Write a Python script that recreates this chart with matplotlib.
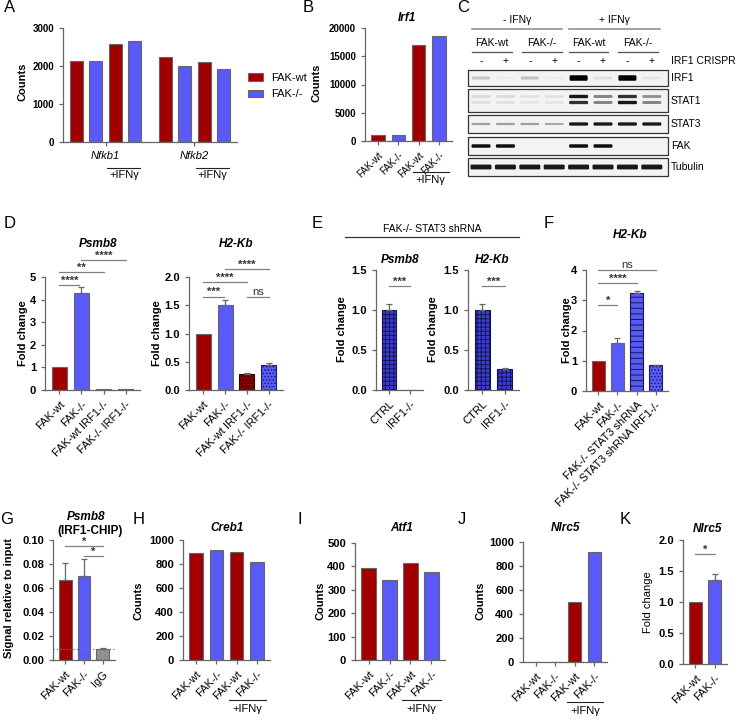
import matplotlib.pyplot as plt
from matplotlib.patches import Rectangle, FancyBboxPatch, Patch
from matplotlib.transforms import offset_copy
import numpy as np

plt.rcParams['font.family'] = ['Liberation Sans', 'DejaVu Sans']
plt.rcParams['hatch.linewidth'] = 0.7

W, H = 739, 721
RED = '#a00000'
BLUE = '#5a5af8'
GREY = '#666666'

# ---------------- data ----------------
a_counts = [2130, 2140, 2590, 2660, 2250, 2000, 2100, 1920]
a_pos = [0, 1, 2, 3, 4.6, 5.6, 6.6, 7.6]
a_genes = ['Nfkb1', 'Nfkb2']
a_gene_pos = [1.5, 6.1]

b_labels = ['FAK-wt', 'FAK-/-', 'FAK-wt', 'FAK-/-']
b_irf1 = [1000, 1000, 17000, 18600]

blot_rows = ['IRF1', 'STAT1', 'STAT3', 'FAK', 'Tubulin']
blot_crispr = ['-', '+', '-', '+', '-', '+', '-', '+']
irf1_band = [0.18, 0.03, 0.2, 0.03, 1.0, 0.08, 1.0, 0.06]
stat1_upper = [0.1, 0.1, 0.08, 0.08, 0.9, 0.45, 0.8, 0.4]
stat1_lower = [0.08, 0.08, 0.06, 0.06, 0.8, 0.45, 0.9, 0.45]
stat3_band = [0.35, 0.35, 0.35, 0.3, 0.9, 0.9, 0.9, 0.9]
fak_band = [0.95, 0.95, 0, 0, 0.95, 0.95, 0, 0]
tub_band = [0.9, 0.9, 0.9, 0.9, 0.9, 0.9, 0.9, 0.9]

d_labels = ['FAK-wt', 'FAK-/-', 'FAK-wt IRF1-/-', 'FAK-/- IRF1-/-']
d_psmb8 = [1.0, 4.3, 0.03, 0.03]
d_psmb8_err = [0, 0.25, 0, 0]
d_h2kb = [1.0, 1.51, 0.28, 0.45]
d_h2kb_err = [0, 0.08, 0.02, 0.03]

e_labels = ['CTRL', 'IRF1-/-']
e_psmb8 = [1.0, 0.005]
e_psmb8_err = [0.08, 0]
e_h2kb = [1.0, 0.26]
e_h2kb_err = [0.08, 0.01]

f_labels = ['FAK-wt', 'FAK-/-', 'FAK-/- STAT3 shRNA', 'FAK-/- STAT3 shRNA IRF1-/-']
f_h2kb = [1.0, 1.58, 3.23, 0.85]
f_h2kb_err = [0, 0.18, 0.06, 0.02]

g_labels = ['FAK-wt', 'FAK-/-', 'IgG']
g_signal = [0.067, 0.070, 0.0095]
g_signal_err = [0.0135, 0.014, 0.0005]
g_background = 0.009

h_creb1 = [890, 920, 900, 820]
i_atf1 = [395, 340, 415, 375]
j_nlrc5 = [0, 0, 500, 920]

k_labels = ['FAK-wt', 'FAK-/-']
k_nlrc5 = [1.0, 1.36]
k_nlrc5_err = [0, 0.09]

# ---------------- helpers ----------------
fig = plt.figure(figsize=(W / 100, H / 100), dpi=100)


def px_ax(x0, y0, x1, y1):
    return fig.add_axes([x0 / W, 1 - y1 / H, (x1 - x0) / W, (y1 - y0) / H])


def ftext(x, y, s, **kw):
    fig.text(x / W, 1 - y / H, s, **kw)


def style(ax, yticks, fmt, size=7.5):
    for s in ['top', 'right']:
        ax.spines[s].set_visible(False)
    for s in ['left', 'bottom']:
        ax.spines[s].set_color(GREY)
        ax.spines[s].set_linewidth(0.9)
    ax.tick_params(colors=GREY, width=0.9, length=3, labelcolor='black')
    ax.set_yticks(yticks, [fmt.format(v) for v in yticks], fontsize=size, fontweight='bold')
    ax.set_ylim(yticks[0], yticks[-1])


def xlabels(ax, labels, size=8):
    ax.set_xticks(range(len(labels)), labels, rotation=45, ha='right',
                  rotation_mode='anchor', fontsize=size)
    ax.set_xlim(-0.65, len(labels) - 0.35)


def bars(ax, vals, colors, errs=None, hatches=None, hatch_edges=None):
    x = np.arange(len(vals))
    for i, v in enumerate(vals):
        hatch = hatches[i] if hatches else None
        ec = hatch_edges[i] if (hatches and hatch) else GREY
        ax.bar(x[i], v, width=0.68, color=colors[i], edgecolor=ec, lw=0.8, hatch=hatch)
    if errs is not None:
        e = np.array(errs)
        m = e > 0
        ax.errorbar(x[m], np.array(vals)[m], yerr=[np.zeros(m.sum()), e[m]], fmt='none',
                    ecolor=GREY, elinewidth=0.9, capsize=2.5, capthick=0.9)


def sig(ax, x0, x1, y, txt):
    ax.plot([x0, x1], [y, y], color='#808080', lw=0.9, clip_on=False)
    tr = offset_copy(ax.transData, fig=fig, y=1.5, units='dots')
    ax.text((x0 + x1) / 2, y, txt, transform=tr, ha='center', va='baseline', fontsize=8,
            fontweight='bold' if '*' in txt else 'normal', color='#333333')


def ifn(ax, x0, x1, dy_line, dy_text):
    tr = offset_copy(ax.get_xaxis_transform(), fig=fig, y=-dy_line, units='dots')
    ax.plot([x0, x1], [0, 0], transform=tr, color='#222222', lw=0.8, clip_on=False)
    tr2 = offset_copy(ax.get_xaxis_transform(), fig=fig, y=-dy_text, units='dots')
    ax.text((x0 + x1) / 2, 0, '+IFNγ', transform=tr2, ha='center', va='center', fontsize=8)


def ylab(x, y, s, weight='bold'):
    ftext(x, y, s, rotation=90, ha='center', va='center', fontsize=8, fontweight=weight)


def title(x, y, s):
    ftext(x, y, s, ha='center', va='center', fontsize=8.5, fontweight='bold', style='italic')


# ---------------- A ----------------
axA = px_ax(63, 28, 237, 142)
style(axA, [0, 1000, 2000, 3000], '{:.0f}', size=7)
axA.bar(a_pos, a_counts, width=0.67, color=[RED, BLUE] * 4, edgecolor=GREY, lw=0.8)
axA.set_xlim(-0.7, 8.3)
axA.set_xticks(a_gene_pos, a_genes, fontsize=8, style='italic')
ifn(axA, 1.6, 3.3, 26, 33)
ifn(axA, 6.2, 7.9, 26, 33)
axA.legend(handles=[Patch(fc=RED, ec=GREY, lw=0.8), Patch(fc=BLUE, ec=GREY, lw=0.8)],
           labels=['FAK-wt', 'FAK-/-'], loc='center left', bbox_to_anchor=(1.03, 0.49),
           frameon=False, fontsize=8, handlelength=1.4, handleheight=0.7,
           handletextpad=0.7, labelspacing=0.6, borderpad=0)
ylab(22, 82, 'Counts')

# ---------------- B ----------------
axB = px_ax(365, 28, 452, 141)
style(axB, [0, 5000, 10000, 15000, 20000], '{:.0f}', size=7)
bars(axB, b_irf1, [RED, BLUE, RED, BLUE])
xlabels(axB, b_labels, size=7)
ifn(axB, 1.7, 3.5, 31, 39)
ylab(317, 83, 'Counts')
title(407, 18, 'Irf1')

# ---------------- C (western blot) ----------------
axC = px_ax(460, 0, 739, 190)
axC.set_xlim(460, 739)
axC.set_ylim(190, 0)
axC.axis('off')
lane_x = 481 + 24.4 * np.arange(8)
row_box = [(70, 86), (89, 112), (115, 133), (137, 155), (158, 176)]
for (top, bot), name in zip(row_box, blot_rows):
    axC.add_patch(Rectangle((468, top), 200, bot - top, fc='#f3f3f3', ec='#333333', lw=0.9))
    axC.text(671, (top + bot) / 2, name, ha='left', va='center', fontsize=7.5)


def bands(vals, yc, hmin, hmax, w):
    for x, v in zip(lane_x, vals):
        if v <= 0:
            continue
        h = hmin + (hmax - hmin) * v
        axC.add_patch(FancyBboxPatch((x - w / 2, yc - h / 2), w, h,
                                     boxstyle='round,pad=0,rounding_size=1.2',
                                     fc='black', alpha=v, lw=0))


bands(irf1_band, 78, 2.5, 5.5, 18)
bands(stat1_upper, 96.5, 2.5, 3.5, 19)
bands(stat1_lower, 102.5, 2.5, 3.5, 19)
bands(stat3_band, 124, 1.5, 3.5, 19)
bands(fak_band, 146, 2.5, 3.5, 19)
bands(tub_band, 167, 3.5, 5, 21)

for sgn, x in zip(blot_crispr, lane_x):
    axC.text(x, 61, sgn, ha='center', va='center', fontsize=7.5)
axC.text(671, 61, 'IRF1 CRISPR', ha='left', va='center', fontsize=7.5)
for lab, x0, x1 in [('- IFNγ', 472, 562), ('+ IFNγ', 569, 660)]:
    axC.plot([x0, x1], [29, 29], color='#888888', lw=1.1)
    axC.text((x0 + x1) / 2, 20, lab, ha='center', va='center', fontsize=7.5)
for lab, x0, x1 in [('FAK-wt', 472, 512), ('FAK-/-', 522, 562),
                    ('FAK-wt', 569, 608), ('FAK-/-', 618, 658)]:
    axC.plot([x0, x1], [52, 52], color='#555555', lw=0.9)
    axC.text((x0 + x1) / 2, 43, lab, ha='center', va='center', fontsize=7.5)

# ---------------- D ----------------
axD1 = px_ax(45, 277, 140, 390)
style(axD1, [0, 1, 2, 3, 4, 5], '{:.0f}', size=8)
bars(axD1, d_psmb8, [RED, BLUE, RED, BLUE], d_psmb8_err)
xlabels(axD1, d_labels)
sig(axD1, 0, 0.9, 4.65, '****')
sig(axD1, 0, 2, 5.22, '**')
sig(axD1, 1, 3, 5.75, '****')
ylab(23, 333, 'Fold change')
title(98, 244, 'Psmb8')

axD2 = px_ax(189, 277, 283, 390)
style(axD2, [0, 0.5, 1.0, 1.5, 2.0], '{:.1f}', size=8)
bars(axD2, d_h2kb, [RED, BLUE, '#8a0000', BLUE], d_h2kb_err,
     hatches=[None, None, '.....', '.....'], hatch_edges=[None, None, '#2a0000', '#1a1a70'])
xlabels(axD2, d_labels)
sig(axD2, 0, 0.95, 1.65, '***')
sig(axD2, 0, 2, 1.91, '****')
sig(axD2, 1, 3, 2.14, '****')
sig(axD2, 2, 3, 1.65, 'ns')
ylab(157, 333, 'Fold change')
title(236, 244, 'H2-Kb')

# ---------------- E ----------------
ftext(432, 229, 'FAK-/- STAT3 shRNA', ha='center', va='center', fontsize=7.5)
fig.add_artist(plt.Line2D([345 / W, 519 / W], [1 - 237 / H, 1 - 237 / H],
                          color='#333333', lw=0.9))
for (x0, x1), vals, errs, name, lx, tx in [((376, 423), e_psmb8, e_psmb8_err, 'Psmb8', 342, 400),
                                           ((468, 519), e_h2kb, e_h2kb_err, 'H2-Kb', 433, 492)]:
    ax = px_ax(x0, 270, x1, 390)
    style(ax, [0, 0.5, 1.0, 1.5], '{:.1f}', size=8)
    bars(ax, vals, ['#3c3cd8', '#3c3cd8'], errs, hatches=['++++', '++++'],
         hatch_edges=['#141450', '#141450'])
    xlabels(ax, e_labels)
    sig(ax, 0, 1, 1.3, '***')
    ylab(lx, 329, 'Fold change')
    title(tx, 260, name)

# ---------------- F ----------------
axF = px_ax(586, 270, 668, 391)
style(axF, [0, 1, 2, 3, 4], '{:.0f}', size=8)
bars(axF, f_h2kb, [RED, BLUE, BLUE, BLUE], f_h2kb_err,
     hatches=[None, None, '---', '.....'], hatch_edges=[None, None, '#151550', '#1a1a70'])
xlabels(axF, f_labels)
sig(axF, 0, 1, 2.84, '*')
sig(axF, 0, 2, 3.57, '****')
sig(axF, 0, 3, 4.0, 'ns')
ylab(567, 330, 'Fold change')
title(630, 235, 'H2-Kb')

# ---------------- G ----------------
axG = px_ax(53, 540, 115, 660)
style(axG, [0, 0.02, 0.04, 0.06, 0.08, 0.10], '{:.2f}', size=8)
bars(axG, g_signal, [RED, BLUE, '#909090'], g_signal_err)
axG.axhline(g_background, color='#777777', ls=':', lw=0.9)
xlabels(axG, g_labels)
sig(axG, 0, 2, 0.095, '*')
sig(axG, 1, 2, 0.0867, '*')
ylab(9, 598, 'Signal relative to input')
title(86, 517, 'Psmb8')
ftext(90, 531, '(IRF1-CHIP)', ha='center', va='center', fontsize=8.5, fontweight='bold')

# ---------------- H, I, J ----------------
for (x0, y0, x1, y1), vals, ticks, name, lx, tx in [
        ((183, 540, 270, 660), h_creb1, [0, 200, 400, 600, 800, 1000], 'Creb1', 138, 227),
        ((355, 543, 445, 660), i_atf1, [0, 100, 200, 300, 400, 500], 'Atf1', 320, 402),
        ((523, 542, 607, 662), j_nlrc5, [0, 200, 400, 600, 800, 1000], 'Nlrc5', 481, 565)]:
    ax = px_ax(x0, y0, x1, y1)
    style(ax, ticks, '{:.0f}', size=8)
    bars(ax, vals, [RED, BLUE, RED, BLUE])
    xlabels(ax, b_labels)
    ifn(ax, 1.6, 3.45, 40, 49)
    ylab(lx, 601, 'Counts')
    title(tx, 528, name)

# ---------------- K ----------------
axK = px_ax(683, 540, 727, 664)
style(axK, [0, 0.5, 1.0, 1.5, 2.0], '{:.1f}', size=8)
bars(axK, k_nlrc5, [RED, BLUE], k_nlrc5_err)
xlabels(axK, k_labels)
sig(axK, 0, 1, 1.77, '*')
ylab(648, 602, 'Fold change', weight='normal')
title(707, 529, 'Nlrc5')

# ---------------- panel letters ----------------
for letter, x, y in [('A', 10, 8), ('B', 308, 8), ('C', 463, 8), ('D', 10, 223),
                     ('E', 317, 223), ('F', 549, 223), ('G', 7, 520), ('H', 139, 520),
                     ('I', 300, 519), ('J', 462, 519), ('K', 625, 520)]:
    ftext(x, y, letter, ha='center', va='center', fontsize=12)

fig.savefig('out.png', dpi=100)
